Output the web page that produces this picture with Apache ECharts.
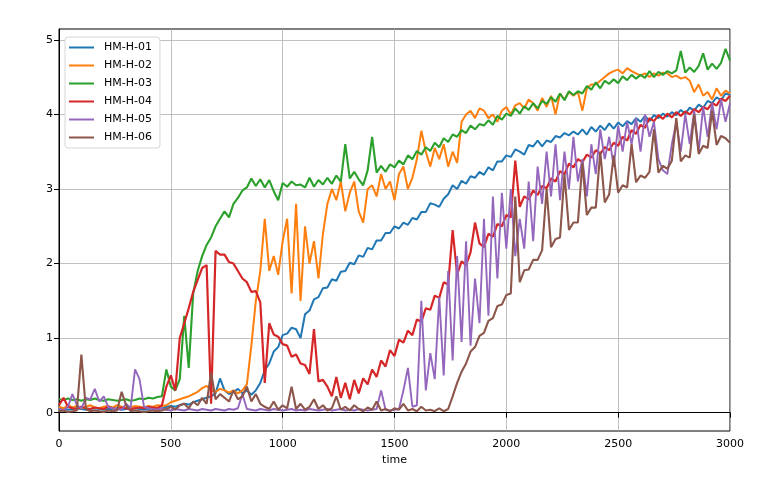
<!DOCTYPE html>
<html><head><meta charset="utf-8">
<script src="https://cdn.jsdelivr.net/npm/echarts@6/dist/echarts.min.js"></script>
<style>html,body{margin:0;padding:0;background:#fff}#c{width:769px;height:493px}</style>
</head><body><div id="c"></div>
<script>
// time samples every 20 units, 0..3000 (151 points)
const timeStep = 20;
const timeMax = 3000;
const names = ['HM-H-01','HM-H-02','HM-H-03','HM-H-04','HM-H-05','HM-H-06'];
const colors = ['#1f77b4','#ff7f0e','#2ca02c','#d62728','#9467bd','#8c564b'];
const xTicks = [0,500,1000,1500,2000,2500,3000];
const yTicks = [0,1,2,3,4,5];

const hm01 = [
0.05,0.06,0.04,0.05,0.06,0.05,0.04,0.05,0.06,0.05,
0.04,0.05,0.05,0.06,0.04,0.05,0.05,0.06,0.05,0.04,
0.05,0.06,0.05,0.06,0.08,0.09,0.08,0.10,0.12,0.11,
0.14,0.16,0.18,0.20,0.22,0.26,0.46,0.30,0.25,0.28,
0.32,0.26,0.30,0.24,0.30,0.40,0.57,0.66,0.82,0.88,
1.04,1.06,1.14,1.12,1.00,1.32,1.37,1.52,1.55,1.67,
1.68,1.79,1.77,1.89,1.90,2.01,1.99,2.11,2.09,2.21,
2.19,2.31,2.31,2.41,2.41,2.50,2.47,2.55,2.52,2.61,
2.59,2.69,2.69,2.81,2.79,2.76,2.87,2.93,3.05,3.00,
3.11,3.07,3.17,3.15,3.23,3.19,3.29,3.25,3.37,3.37,
3.45,3.43,3.53,3.50,3.46,3.59,3.57,3.65,3.57,3.65,
3.63,3.71,3.69,3.75,3.72,3.77,3.73,3.80,3.73,3.83,
3.77,3.85,3.79,3.88,3.81,3.89,3.84,3.91,3.87,3.95,
3.90,3.98,3.91,3.99,3.95,4.01,3.97,4.03,3.99,4.06,
4.01,4.09,4.05,4.13,4.09,4.18,4.15,4.23,4.19,4.28,
4.26];

const hm02 = [
0.08,0.06,0.10,0.07,0.09,0.06,0.08,0.10,0.07,0.06,
0.08,0.09,0.07,0.10,0.08,0.06,0.07,0.09,0.08,0.07,
0.09,0.08,0.10,0.09,0.10,0.14,0.16,0.18,0.20,0.22,
0.25,0.28,0.33,0.36,0.30,0.28,0.32,0.30,0.27,0.30,
0.26,0.30,0.38,0.90,1.50,1.90,2.60,1.90,2.10,1.85,
2.30,2.60,1.60,2.80,1.50,2.50,2.00,2.30,1.80,2.40,
2.80,3.00,2.85,3.10,2.70,2.95,3.10,2.70,2.55,3.00,
3.05,2.90,3.20,3.00,3.10,2.85,3.20,3.30,3.00,3.15,
3.40,3.78,3.50,3.30,3.55,3.40,3.60,3.30,3.50,3.35,
3.90,4.00,4.05,3.95,4.08,4.05,3.95,4.00,3.90,4.05,
4.10,4.00,4.12,4.15,4.08,4.20,4.15,4.05,4.22,4.10,
4.25,4.00,4.28,4.20,4.30,4.25,4.30,4.05,4.35,4.40,
4.40,4.45,4.50,4.55,4.58,4.60,4.55,4.62,4.58,4.55,
4.52,4.55,4.50,4.55,4.52,4.56,4.55,4.50,4.52,4.48,
4.50,4.45,4.30,4.40,4.25,4.30,4.20,4.35,4.25,4.32,
4.28];

const hm03 = [
0.18,0.17,0.19,0.17,0.18,0.16,0.18,0.17,0.19,0.17,
0.16,0.18,0.17,0.16,0.17,0.18,0.16,0.17,0.19,0.18,
0.20,0.19,0.21,0.22,0.58,0.35,0.30,0.45,1.30,0.60,
1.60,1.90,2.10,2.25,2.35,2.50,2.60,2.70,2.62,2.80,
2.88,2.98,3.02,3.14,3.04,3.13,3.02,3.12,2.97,2.85,
3.08,3.03,3.10,3.05,3.06,3.02,3.15,3.03,3.12,3.06,
3.15,3.07,3.18,3.10,3.60,3.14,3.23,3.13,3.05,3.25,
3.70,3.22,3.31,3.23,3.33,3.29,3.38,3.33,3.45,3.40,
3.51,3.46,3.56,3.51,3.62,3.56,3.68,3.63,3.73,3.70,
3.79,3.75,3.85,3.80,3.87,3.85,3.92,3.86,3.98,3.93,
4.01,3.98,4.08,4.01,4.11,4.06,4.15,4.08,4.18,4.14,
4.23,4.17,4.28,4.19,4.31,4.26,4.31,4.28,4.38,4.33,
4.43,4.35,4.45,4.41,4.47,4.42,4.51,4.46,4.53,4.48,
4.53,4.49,4.58,4.50,4.57,4.53,4.58,4.55,4.59,4.85,
4.56,4.63,4.57,4.65,4.82,4.60,4.68,4.61,4.69,4.88,
4.72];

const hm04 = [
0.10,0.20,0.08,0.06,0.05,0.08,0.06,0.05,0.07,0.06,
0.05,0.08,0.06,0.05,0.07,0.06,0.05,0.06,0.07,0.06,
0.08,0.07,0.06,0.10,0.35,0.50,0.30,1.00,1.20,1.40,
1.62,1.78,1.94,1.98,0.12,2.17,2.12,2.12,2.02,2.00,
1.90,1.80,1.75,1.62,1.63,1.48,0.40,1.20,1.05,1.02,
0.92,0.90,0.75,0.78,0.66,0.64,0.52,1.12,0.42,0.44,
0.35,0.22,0.48,0.20,0.40,0.18,0.44,0.26,0.46,0.38,
0.58,0.48,0.70,0.62,0.84,0.76,0.98,0.94,1.10,1.04,
1.25,1.22,1.40,1.38,1.57,1.54,1.75,1.72,2.45,1.85,
2.03,1.98,2.15,2.55,2.27,2.22,2.40,2.36,2.53,2.50,
2.65,2.62,3.38,2.76,2.90,2.86,2.98,2.92,3.04,3.01,
3.14,3.10,3.24,3.20,3.34,3.29,3.40,3.36,3.46,3.42,
3.52,3.47,3.56,3.52,3.62,3.58,3.70,3.65,3.79,3.74,
3.86,3.82,3.95,3.91,3.99,3.94,4.01,3.96,4.03,3.98,
4.04,4.00,4.07,4.03,4.10,4.07,4.15,4.12,4.21,4.18,
4.25];

const hm05 = [
0.05,0.03,0.08,0.25,0.10,0.06,0.20,0.18,0.32,0.15,
0.22,0.08,0.06,0.05,0.04,0.12,0.06,0.58,0.45,0.08,
0.06,0.05,0.04,0.06,0.04,0.03,0.05,0.04,0.03,0.05,
0.04,0.03,0.05,0.04,0.03,0.05,0.04,0.03,0.05,0.04,
0.06,0.25,0.05,0.04,0.03,0.05,0.04,0.03,0.05,0.04,
0.03,0.04,0.05,0.03,0.04,0.03,0.05,0.04,0.03,0.04,
0.05,0.03,0.04,0.05,0.03,0.04,0.03,0.05,0.04,0.03,
0.04,0.05,0.30,0.04,0.03,0.04,0.05,0.30,0.60,0.08,
0.10,1.50,0.30,0.80,0.45,1.55,0.50,1.90,0.70,2.10,
0.95,2.30,0.90,1.80,1.20,2.60,1.30,2.90,1.80,2.95,
2.20,3.00,2.10,2.60,2.20,3.10,2.30,3.30,2.80,3.50,
2.90,3.60,2.85,3.50,3.00,3.70,3.10,3.40,2.90,3.60,
3.20,3.80,3.40,3.70,3.30,3.85,3.50,3.90,3.60,3.95,
3.50,4.00,3.70,3.90,3.40,3.25,3.20,3.60,3.90,3.50,
4.00,3.60,4.05,3.50,4.10,3.70,4.15,3.80,4.20,3.90,
4.15];

const hm06 = [
0.02,0.03,0.01,0.02,0.03,0.78,0.05,0.02,0.03,0.02,
0.01,0.03,0.02,0.03,0.28,0.10,0.02,0.03,0.02,0.01,
0.02,0.03,0.02,0.03,0.05,0.08,0.04,0.10,0.12,0.06,
0.15,0.10,0.20,0.12,0.54,0.18,0.25,0.20,0.15,0.30,
0.18,0.22,0.35,0.15,0.25,0.12,0.08,0.05,0.15,0.04,
0.10,0.06,0.35,0.05,0.12,0.04,0.08,0.18,0.05,0.10,
0.03,0.06,0.22,0.04,0.08,0.03,0.10,0.05,0.02,0.07,
0.04,0.15,0.03,0.05,0.02,0.06,0.04,0.12,0.03,0.05,
0.02,0.08,0.03,0.04,0.02,0.06,0.02,0.05,0.22,0.40,
0.55,0.66,0.82,0.88,1.03,1.07,1.23,1.27,1.43,1.45,
1.58,1.60,2.90,1.75,1.91,1.92,2.05,2.05,2.18,3.00,
2.22,2.33,2.35,3.20,2.45,2.55,2.55,3.35,2.65,2.75,
2.75,3.50,2.82,2.93,3.45,2.95,3.05,3.02,3.60,3.09,
3.18,3.15,3.23,3.80,3.22,3.31,3.27,3.38,3.95,3.37,
3.45,3.42,4.00,3.47,3.58,3.55,4.05,3.59,3.71,3.68,
3.62];

const allValues = [hm01, hm02, hm03, hm04, hm05, hm06];
const lineWidths = [2.0, 2.0, 2.1, 2.2, 1.9, 2.1];

const times = [];
for (let t = 0; t <= timeMax; t += timeStep) times.push(t);

const font = 'DejaVu Sans';
const chart = echarts.init(document.getElementById('c'), null, {renderer: 'canvas'});
chart.setOption({
  animation: false,
  backgroundColor: '#fff',
  textStyle: {fontFamily: font},
  grid: {left: 59, right: 39, top: 29, bottom: 62, show: true, borderColor: '#000', borderWidth: 1, backgroundColor: 'transparent'},
  legend: {
    orient: 'vertical', left: 65, top: 37,
    data: names.map((n, k) => ({name: n, icon: 'rect', itemStyle: {color: colors[k]}})),
    itemWidth: 25, itemHeight: 2, itemGap: 5,
    padding: [4, 8, 4, 4],
    backgroundColor: '#fff', borderColor: '#d6d6d6', borderWidth: 1, borderRadius: 3,
    textStyle: {fontFamily: font, fontSize: 11, color: '#000', lineHeight: 13, padding: [0, 0, 0, 5]}
  },
  xAxis: {
    type: 'value', min: 0, max: 3000, interval: 500,
    name: 'time', nameLocation: 'middle', nameGap: 23,
    nameTextStyle: {fontFamily: font, fontSize: 11, color: '#000'},
    axisLine: {show: true, lineStyle: {color: '#000', width: 1}},
    axisTick: {show: true, length: 5, lineStyle: {color: '#000', width: 1}},
    axisLabel: {color: '#000', fontFamily: font, fontSize: 11, margin: 8, formatter: v => String(v)},
    splitLine: {show: true, lineStyle: {color: '#b0b0b0', width: 0.8}}
  },
  yAxis: {
    type: 'value', min: -0.245, max: 5.145,
    axisLine: {show: true, lineStyle: {color: '#000', width: 1}},
    axisTick: {show: true, length: 5, customValues: yTicks, lineStyle: {color: '#000', width: 1}},
    axisLabel: {color: '#000', fontFamily: font, fontSize: 11, margin: 6, customValues: yTicks,
      formatter: v => (Math.abs(v - Math.round(v)) < 1e-9 ? String(Math.round(v)) : '')},
    splitLine: {show: true, lineStyle: {color: '#b0b0b0', width: 0.8}}
  },
  series: names.map((n, k) => ({
    name: n, type: 'line', showSymbol: false, symbol: 'none',
    color: colors[k],
    lineStyle: {color: colors[k], width: lineWidths[k]},
    data: times.map((t, i) => [t, allValues[k][i]])
  }))
});
</script></body></html>
